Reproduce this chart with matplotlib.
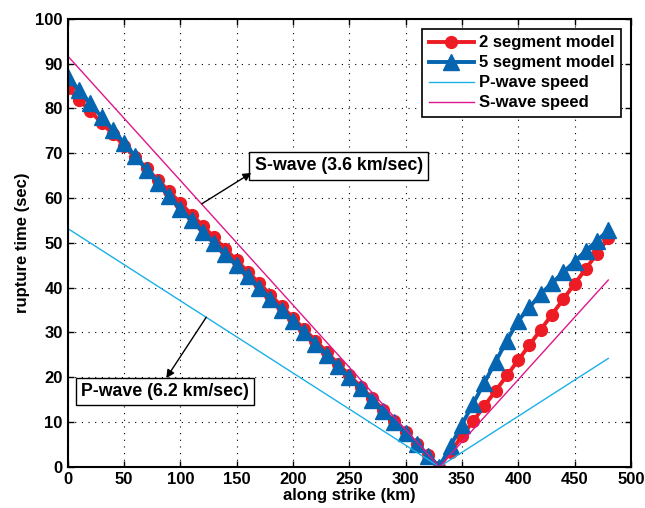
import matplotlib
matplotlib.use('Agg')
import matplotlib.pyplot as plt
import numpy as np

plt.rcParams['font.family'] = ['Liberation Sans', 'DejaVu Sans']
plt.rcParams['font.weight'] = 'bold'

# along-strike positions of the model points (km)
x_km = list(range(0, 490, 10))

# 2 segment model rupture time (sec)
t_two_seg = [84.5, 81.9, 79.4, 76.8, 74.3, 71.7, 69.1, 66.6, 64.0, 61.5,
             58.9, 56.3, 53.8, 51.2, 48.6, 46.1, 43.5, 41.0, 38.4, 35.8,
             33.3, 30.7, 28.2, 25.6, 23.0, 20.5, 17.9, 15.4, 12.8, 10.2,
             7.7, 5.1, 2.6, 0.0,
             3.4, 6.8, 10.2, 13.6, 17.0, 20.4, 23.8, 27.2, 30.6, 34.0,
             37.4, 40.8, 44.2, 47.6, 51.0]

# 5 segment model rupture time (sec)
t_five_seg = [87.0, 84.0, 81.1, 78.1, 75.2, 72.2, 69.3, 66.3, 63.4, 60.4,
              57.5, 55.0, 52.5, 50.0, 47.5, 45.0, 42.5, 40.0, 37.5, 35.0,
              32.5, 30.0, 27.5, 25.0, 22.5, 20.0, 17.5, 15.0, 12.5, 10.0,
              7.5, 5.0, 2.5, 0.0,
              4.7, 9.4, 14.1, 18.8, 23.5, 28.2, 32.6, 35.6, 38.6, 41.0,
              43.4, 45.8, 48.2, 50.5, 52.8]

# reference wave-speed lines: end points (km, sec)
p_wave_x = [0, 330, 480]
p_wave_t = [53.2, 0.0, 24.2]
s_wave_x = [0, 330, 480]
s_wave_t = [91.7, 0.0, 41.7]

fig = plt.figure(figsize=(6.45, 5.08), dpi=100)
ax = fig.add_axes([0.105, 0.081, 0.873, 0.882])

red = '#ED1C24'
blue = '#0565B0'
cyan = '#1BB0E8'
magenta = '#E0168C'

ax.plot(x_km, t_two_seg, '-o', color=red, lw=2.8, ms=8.5, mec=red, mfc=red,
        label='2 segment model')
ax.plot(x_km, t_five_seg, '-^', color=blue, lw=2.8, ms=11, mec=blue, mfc=blue,
        label='5 segment model')
ax.plot(p_wave_x, p_wave_t, '-', color=cyan, lw=1.0, label='P-wave speed')
ax.plot(s_wave_x, s_wave_t, '-', color=magenta, lw=1.0, label='S-wave speed')

ax.set_xlim(0, 500)
ax.set_ylim(0, 100)
ax.set_xticks(np.arange(0, 501, 50))
ax.set_yticks(np.arange(0, 101, 10))
ax.grid(True, linestyle=(0, (1, 5)), color='black', lw=0.8)
ax.tick_params(direction='in', labelsize=12, width=1.0, length=4,
               top=True, right=True)
for sp in ax.spines.values():
    sp.set_linewidth(1.5)

ax.set_xlabel('along strike (km)', fontsize=12, fontweight='bold', labelpad=1)
ax.set_ylabel('rupture time (sec)', fontsize=12, fontweight='bold', labelpad=4)

# text boxes with arrows
box = dict(boxstyle='square,pad=0.3', fc='white', ec='black', lw=1.0)
ax.text(240.5, 67.2, 'S-wave (3.6 km/sec)', fontsize=12.8, fontweight='bold',
        ha='center', va='center', bbox=box)
ax.annotate('', xy=(163, 65.6), xytext=(119, 58.7),
            arrowprops=dict(arrowstyle='-|>', color='black', lw=1.0,
                            mutation_scale=12, shrinkA=0, shrinkB=0))
ax.text(86.5, 16.8, 'P-wave (6.2 km/sec)', fontsize=12.8, fontweight='bold',
        ha='center', va='center', bbox=box)
ax.annotate('', xy=(87.5, 19.8), xytext=(123, 33.4),
            arrowprops=dict(arrowstyle='-|>', color='black', lw=1.0,
                            mutation_scale=12, shrinkA=0, shrinkB=0))

leg = ax.legend(loc='upper right', prop={'weight': 'bold', 'size': 12},
                fancybox=False, edgecolor='black', framealpha=1,
                handlelength=2.7, borderaxespad=0.6, labelspacing=0.3,
                handletextpad=0.3, borderpad=0.4)
leg.get_frame().set_linewidth(1.2)

fig.savefig('out.png', dpi=100)
